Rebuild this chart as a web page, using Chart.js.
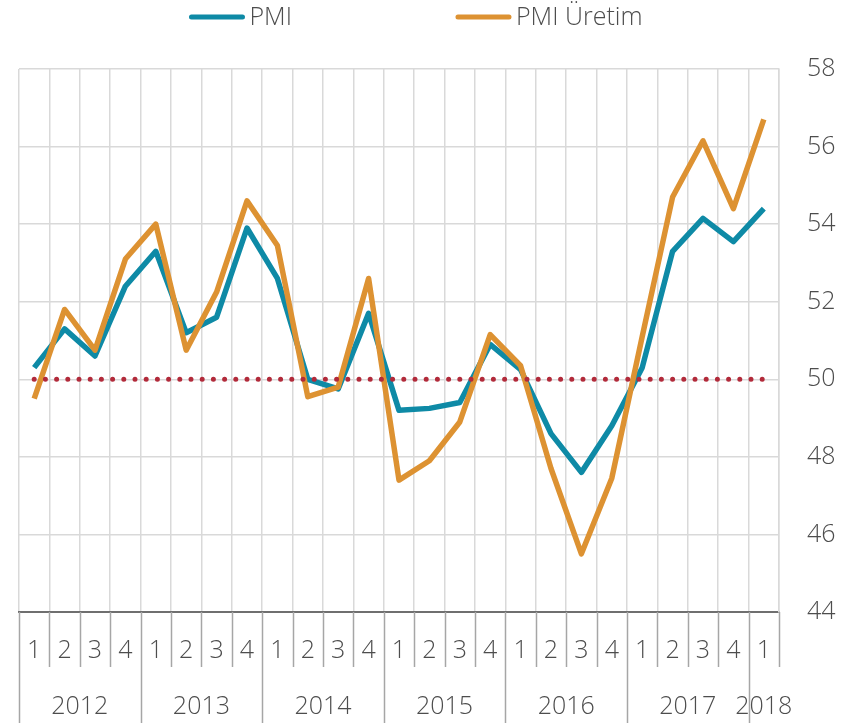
<!DOCTYPE html>
<html>
<head>
<meta charset="utf-8">
<script src="https://cdn.jsdelivr.net/npm/chart.js@4.4.0/dist/chart.umd.min.js"></script>
<style>
  html, body { margin: 0; padding: 0; background: #fff; }
  #wrap { width: 852px; height: 727px; position: relative; }
</style>
</head>
<body>
<div id="wrap"><canvas id="pmiChart"></canvas></div>
<script>
// Çeyrek etiketleri ve yıllar
const quarterLabels = ['1','2','3','4','1','2','3','4','1','2','3','4','1','2','3','4','1','2','3','4','1','2','3','4','1'];
const yearLabels = ['2012', '2013', '2014', '2015', '2016', '2017', '2018'];
const quartersPerYear = [4, 4, 4, 4, 4, 4, 1];

// Seriler
const pmi = [50.3, 51.3, 50.6, 52.4, 53.3, 51.2, 51.6, 53.9, 52.6, 50.0, 49.75, 51.7,
             49.2, 49.25, 49.4, 50.9, 50.25, 48.6, 47.6, 48.8, 50.3, 53.3, 54.15, 53.55, 54.4];
const pmiUretim = [49.5, 51.8, 50.75, 53.1, 54.0, 50.75, 52.25, 54.6, 53.45, 49.55, 49.8, 52.6,
                   47.4, 47.9, 48.9, 51.15, 50.35, 47.7, 45.5, 47.45, 51.1, 54.7, 56.15, 54.4, 56.7];
const threshold = 50;

// Eksen
const yTicks = [44, 46, 48, 50, 52, 54, 56, 58];

const FONT = "'Open Sans', 'Noto Sans', sans-serif";
const TEXT = '#4d4d4d';

// Alt eksendeki ayraçlar + yıl etiketleri, üstteki gösterge
const axisDecor = {
    id: 'axisDecor',
    afterDraw(chart) {
        const ctx = chart.ctx;
        const x = chart.scales.x;
        const area = chart.chartArea;
        const step = x.getPixelForValue(1) - x.getPixelForValue(0);
        ctx.save();
        ctx.strokeStyle = '#a6a6a6';
        ctx.lineWidth = 1.5;
        // yıl başlangıç indeksleri
        const yearStarts = [];
        let idx = 0;
        quartersPerYear.forEach(n => { yearStarts.push(idx); idx += n; });
        for (let i = 0; i <= quarterLabels.length; i++) {
            const bx = Math.round(x.getPixelForValue(i) - step / 2) + 0.5;
            const long = yearStarts.includes(i);
            ctx.beginPath();
            ctx.moveTo(bx, area.bottom);
            ctx.lineTo(bx, long ? area.bottom + 111 : area.bottom + 55);
            ctx.stroke();
        }
        ctx.fillStyle = TEXT;
        ctx.font = '300 25px ' + FONT;
        ctx.textAlign = 'center';
        ctx.textBaseline = 'middle';
        yearLabels.forEach((yr, k) => {
            const first = yearStarts[k];
            const last = first + quartersPerYear[k] - 1;
            const cx = (x.getPixelForValue(first) + x.getPixelForValue(last)) / 2;
            ctx.fillText(yr, cx, area.bottom + 95);
        });

        // gösterge
        const items = chart.data.datasets.filter(d => d.label);
        ctx.font = '300 25px ' + FONT;
        const lineLen = 55, gapText = 5, gapItem = 164;
        const widths = items.map(d => lineLen + gapText + ctx.measureText(d.label).width);
        const total = widths.reduce((a, b) => a + b, 0) + gapItem * (items.length - 1);
        let lx = 416 - total / 2;
        const ly = 17;
        ctx.textAlign = 'left';
        items.forEach((d, k) => {
            ctx.strokeStyle = d.borderColor;
            ctx.lineWidth = 5;
            ctx.lineCap = 'round';
            ctx.beginPath();
            ctx.moveTo(lx + 2, ly);
            ctx.lineTo(lx + lineLen - 2, ly);
            ctx.stroke();
            ctx.fillStyle = TEXT;
            ctx.fillText(d.label, lx + lineLen + gapText, ly + 1);
            lx += widths[k] + gapItem;
        });
        ctx.restore();
    }
};

const ctx = document.getElementById('pmiChart').getContext('2d');
new Chart(ctx, {
    type: 'line',
    data: {
        labels: quarterLabels,
        datasets: [
            {
                label: '',
                data: quarterLabels.map(() => threshold),
                borderColor: '#b22a3a',
                borderWidth: 5,
                borderDash: [0, 11.2],
                borderCapStyle: 'round',
                pointRadius: 0,
                order: 0
            },
            {
                label: 'PMI',
                data: pmi,
                borderColor: '#0e8aa6',
                borderWidth: 5.5,
                borderJoinStyle: 'round',
                pointRadius: 0,
                tension: 0,
                order: 2
            },
            {
                label: 'PMI Üretim',
                data: pmiUretim,
                borderColor: '#dd9232',
                borderWidth: 5.5,
                borderJoinStyle: 'round',
                pointRadius: 0,
                tension: 0,
                order: 1
            }
        ]
    },
    options: {
        responsive: true,
        maintainAspectRatio: false,
        animation: false,
        layout: { padding: { top: 69, left: 19, right: 0, bottom: 0 } },
        plugins: {
            legend: { display: false },
            tooltip: { enabled: false }
        },
        scales: {
            x: {
                offset: true,
                grid: { offset: true, color: '#d9d9d9', lineWidth: 1.5, drawTicks: false },
                border: { color: '#6f6f6f', width: 2 },
                ticks: {
                    color: TEXT,
                    font: { family: FONT, size: 25, weight: '300' },
                    padding: 24,
                    maxRotation: 0,
                    autoSkip: false
                },
                afterFit(scale) { scale.height = 115; }
            },
            y: {
                position: 'right',
                min: 44,
                max: 58,
                afterBuildTicks(scale) { scale.ticks = yTicks.map(v => ({ value: v })); },
                grid: { color: '#d9d9d9', lineWidth: 1.5, drawTicks: false },
                border: { color: '#d9d9d9', width: 1.5 },
                ticks: {
                    color: TEXT,
                    font: { family: FONT, size: 25, weight: '300' },
                    padding: 28
                },
                afterFit(scale) { scale.width = 73; }
            }
        }
    },
    plugins: [axisDecor]
});
</script>
</body>
</html>
